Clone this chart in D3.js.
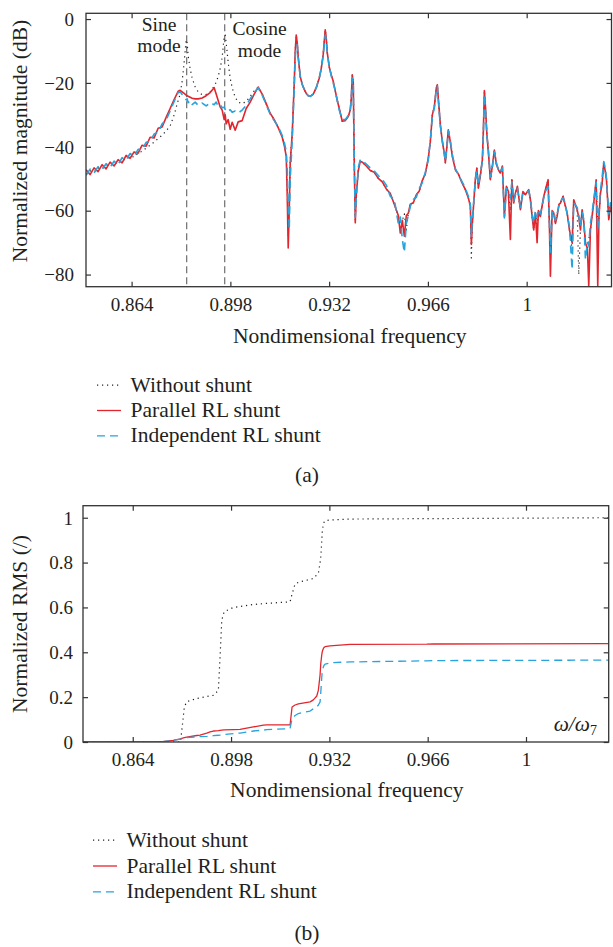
<!DOCTYPE html>
<html>
<head>
<meta charset="utf-8">
<script src="https://cdn.jsdelivr.net/npm/d3@7"></script>
<style>
  body { margin: 0; background: #fff; }
  svg text { font-family: "Liberation Serif", "Times New Roman", serif; fill: #231f20; }
</style>
</head>
<body>
<svg id="chart" width="613" height="947"></svg>
<script>
// ---- panel (a): frequency response, dB ----
var topFreq = [
  0.84833,0.84970,0.85108,0.85246,0.85384,0.85522,0.85659,0.85797,0.85935,0.86073,0.86211,0.86348,
  0.86486,0.86624,0.86762,0.86900,0.87037,0.87175,0.87313,0.87451,0.87589,0.87726,0.87864,0.88002,
  0.88071,0.88140,0.88209,0.88278,0.88312,0.88346,0.88415,0.88484,0.88588,0.88691,0.88829,0.88967,
  0.89104,0.89242,0.89311,0.89380,0.89449,0.89518,0.89587,0.89621,0.89656,0.89724,0.89793,0.89862,
  0.89966,0.90069,0.90207,0.90345,0.90482,0.90620,0.90758,
  0.90896,0.91034,0.91171,0.91309,0.91447,0.91585,0.91654,0.91723,0.91757,0.91791,0.91826,0.91860,
  0.91929,0.91998,0.92033,0.92067,0.92102,0.92136,0.92205,0.92274,0.92343,0.92412,0.92480,0.92549,
  0.92653,0.92756,0.92859,0.92928,0.92997,0.93032,0.93066,0.93101,0.93135,0.93204,0.93273,0.93342,
  0.93411,0.93480,0.93548,0.93652,0.93755,0.93858,0.93927,0.93962,0.93996,0.94031,0.94065,0.94100,
  0.94134,0.94203,0.94272,0.94341,
  0.94479,0.94616,0.94754,0.94892,0.95030,0.95168,0.95305,0.95443,0.95581,0.95650,0.95719,0.95788,
  0.95857,0.95925,0.95994,0.96098,0.96201,0.96304,0.96408,0.96511,
  0.96614,0.96683,0.96752,0.96821,0.96890,0.96924,0.96959,0.97028,0.97097,0.97166,0.97200,0.97252,
  0.97303,0.97372,0.97441,
  0.97545,0.97648,0.97751,0.97889,0.97992,0.98061,0.98096,0.98130,0.98182,0.98234,0.98285,0.98337,
  0.98406,0.98475,0.98509,0.98544,0.98578,0.98630,0.98681,0.98750,0.98819,0.98888,0.98957,0.99043,0.99095,
  0.99164,0.99233,0.99302,0.99370,0.99439,0.99491,0.99553,0.99612,0.99681,0.99784,0.99870,0.99956,
  1.00070,1.00128,1.00187,1.00242,1.00301,1.00359,1.00404,1.00473,
  1.00576,1.00645,1.00738,1.00783,1.00817,1.00876,1.00931,1.00990,1.01048,1.01110,1.01162,1.01255,
  1.01317,1.01393,1.01472,1.01565,1.01620,1.01737,1.01792,1.01851,
  1.01909,1.01971,1.02023,1.02092,1.02137,1.02195,1.02247,1.02309,1.02392,1.02447,1.02488,1.02540,
  1.02592,1.02654,1.02712,1.02747,1.02826,1.02884,1.02936
];
var topWithout = [
  -48.5,-47.5,-47.9,-46.6,-46.8,-45.7,-46.0,-45.0,-45.3,-44.0,-44.0,-43.0,
  -43.2,-42.0,-41.4,-40.4,-39.5,-38.5,-37.4,-36.4,-35.0,-33.5,-30.0,-25.5,
  -23.5,-19.5,-13.5,-6.5,-7.5,-11.5,-15.5,-18.5,-21.2,-22.8,-23.7,-23.6,
  -22.8,-21.0,-19.8,-18.0,-15.5,-12.0,-5.5,-5.0,-7.5,-13.5,-18.5,-21.5,
  -24.5,-26.0,-26.5,-25.8,-24.2,-22.5,-21.3,
  -23.5,-26.6,-29.6,-31.6,-34.0,-36.8,-39.0,-42.5,-52.0,-68.0,-58.0,-44.0,
  -36.0,-20.0,-10.0,-5.0,-7.5,-12.0,-18.0,-20.5,-22.0,-23.3,-24.0,-24.2,
  -23.5,-21.5,-18.5,-15.5,-11.0,-7.0,-3.4,-6.0,-10.5,-15.0,-17.5,-19.5,
  -22.5,-25.5,-28.0,-32.0,-31.8,-30.5,-28.5,-25.0,-17.5,-20.0,-45.0,-63.0,
  -55.0,-47.0,-44.5,-44.8,
  -46.0,-47.4,-48.0,-49.9,-51.0,-53.2,-54.6,-58.0,-61.5,-66.0,-63.0,-61.0,
  -66.0,-60.8,-58.0,-57.5,-55.0,-53.8,-50.5,-48.5,
  -43.5,-38.5,-30.0,-27.5,-21.5,-20.6,-25.0,-33.0,-38.5,-42.0,-45.0,-40.0,
  -34.7,-38.5,-43.0,
  -47.2,-48.5,-50.8,-53.4,-56.0,-58.6,-74.8,-64.0,-57.0,-50.0,-46.7,-52.9,
  -49.0,-44.0,-35.0,-22.4,-27.0,-36.0,-41.5,-50.3,-46.0,-41.0,-45.5,-47.5,-48.2,
  -46.0,-61.8,-52.4,-54.0,-60.0,-50.3,-57.6,-54.5,-52.4,-59.7,-54.0,-55.0,
  -53.4,-56.6,-61.8,-66.0,-60.7,-65.0,-60.0,-61.8,
  -56.0,-53.4,-50.3,-65.0,-74.0,-60.0,-60.7,-64.0,-61.8,-58.0,-57.6,-55.5,
  -58.0,-60.7,-66.0,-72.0,-56.6,-59.7,-80.0,-66.0,
  -59.7,-64.0,-70.0,-72.0,-69.0,-66.0,-62.0,-57.6,-50.3,-66.0,-62.0,-54.5,
  -52.0,-45.0,-48.0,-50.3,-62.8,-58.0,-60.7
];
var topParallel = [
  -47.2,-48.7,-46.6,-47.8,-45.6,-46.9,-44.8,-46.0,-44.0,-45.0,-42.7,-43.6,
  -41.6,-42.0,-39.5,-39.8,-37.0,-37.2,-34.2,-33.8,-30.8,-28.0,-25.2,-22.6,
  -22.3,-22.8,-23.3,-23.8,-24.0,-24.2,-24.5,-24.8,-25.0,-25.0,-24.7,-24.0,
  -23.0,-21.5,-23.5,-25.5,-27.5,-28.5,-31.5,-30.0,-32.8,-31.5,-34.5,-32.3,
  -34.8,-32.2,-31.8,-28.0,-26.0,-23.5,-21.3,
  -23.5,-26.5,-29.5,-31.5,-34.0,-37.0,-39.5,-43.0,-55.0,-71.7,-60.0,-45.0,
  -36.0,-20.0,-10.0,-5.0,-7.5,-12.0,-18.0,-20.5,-22.0,-23.3,-24.0,-24.2,
  -23.5,-21.5,-18.5,-15.5,-11.0,-7.0,-3.4,-6.0,-10.5,-15.0,-17.5,-19.5,
  -22.5,-25.5,-28.0,-32.0,-31.8,-30.5,-28.5,-25.0,-17.5,-20.0,-45.0,-63.8,
  -55.0,-47.5,-44.5,-44.8,
  -46.0,-47.4,-48.0,-49.9,-51.0,-53.2,-54.6,-58.0,-61.5,-67.0,-63.0,-68.0,
  -61.5,-60.8,-58.0,-57.5,-55.0,-53.8,-50.5,-48.5,
  -43.5,-38.5,-30.0,-27.5,-21.5,-20.6,-25.0,-33.0,-38.5,-42.0,-45.0,-40.0,
  -34.7,-38.5,-43.0,
  -47.2,-48.5,-50.8,-53.4,-56.0,-58.6,-70.6,-64.0,-57.0,-50.0,-46.7,-52.9,
  -49.0,-44.0,-35.0,-22.4,-27.0,-36.0,-41.5,-50.3,-46.0,-41.0,-45.5,-47.5,-48.2,
  -46.0,-61.8,-52.4,-54.0,-69.0,-50.3,-57.6,-54.5,-52.4,-59.7,-54.0,-55.0,
  -53.4,-56.6,-61.8,-66.0,-60.7,-70.0,-60.0,-61.8,
  -56.0,-53.4,-50.3,-65.0,-80.5,-60.0,-60.7,-64.0,-61.8,-58.0,-57.6,-55.5,
  -58.0,-60.7,-66.0,-70.0,-56.6,-59.7,-62.0,-66.0,
  -59.7,-64.0,-70.0,-72.0,-83.6,-66.0,-62.0,-57.6,-50.3,-83.6,-62.0,-54.5,
  -52.0,-45.0,-48.0,-50.3,-62.8,-58.0,-60.7
];
var topIndependent = [
  -48.9,-47.0,-48.2,-46.2,-47.1,-45.3,-46.4,-44.5,-45.6,-43.4,-44.2,-42.1,
  -43.0,-40.8,-40.9,-38.6,-38.3,-36.0,-35.5,-32.8,-31.6,-28.8,-25.8,-23.0,
  -22.8,-23.6,-24.5,-25.3,-25.0,-26.2,-25.6,-26.8,-26.0,-27.0,-26.3,-27.2,
  -26.2,-26.8,-26.0,-27.2,-26.8,-27.8,-27.6,-28.3,-28.0,-28.8,-28.4,-29.2,
  -28.8,-29.4,-28.5,-27.0,-25.0,-23.0,-21.5,
  -23.8,-26.8,-29.8,-31.8,-33.6,-36.5,-38.5,-41.5,-47.0,-58.0,-66.0,-50.0,
  -38.0,-22.0,-12.0,-8.5,-8.0,-12.0,-18.0,-20.5,-22.0,-23.3,-24.0,-24.2,
  -23.5,-21.5,-18.5,-15.5,-11.5,-8.0,-5.0,-6.5,-10.5,-15.0,-17.8,-20.0,
  -22.5,-25.5,-28.5,-31.5,-31.5,-30.2,-28.5,-25.0,-18.5,-21.0,-45.0,-62.0,
  -56.0,-46.5,-44.0,-44.3,
  -45.4,-46.6,-47.6,-49.0,-50.2,-52.0,-55.5,-56.5,-64.0,-62.0,-69.0,-73.0,
  -64.0,-61.5,-58.6,-56.5,-55.8,-53.0,-51.2,-48.0,
  -44.0,-38.0,-30.5,-27.8,-22.0,-21.0,-25.5,-33.5,-38.0,-42.5,-44.5,-40.5,
  -35.0,-38.0,-42.5,
  -46.8,-48.8,-50.5,-53.0,-55.5,-58.0,-68.0,-63.0,-56.5,-50.5,-47.5,-52.0,
  -48.5,-44.5,-36.0,-23.5,-28.0,-36.5,-41.0,-49.5,-46.5,-41.5,-45.0,-47.8,-48.0,
  -46.5,-62.3,-53.0,-53.5,-56.0,-51.0,-57.0,-55.0,-53.0,-59.0,-54.5,-54.5,
  -53.8,-56.0,-61.0,-64.0,-60.0,-62.0,-59.5,-61.0,
  -56.5,-54.0,-52.5,-63.0,-73.0,-61.0,-60.0,-63.0,-61.0,-58.5,-57.0,-56.0,
  -57.5,-61.0,-65.0,-78.4,-57.5,-59.0,-61.5,-65.0,
  -60.5,-63.0,-75.3,-70.0,-71.0,-64.0,-61.0,-56.5,-51.0,-66.0,-60.0,-53.5,
  -50.0,-44.6,-47.0,-50.0,-61.0,-57.5,-60.0
];
var modeFreq = [0.88296, 0.89605];
var modeLabels = [["Sine", "mode"], ["Cosine", "mode"]];

// ---- panel (b): cumulative RMS ----
var rmsFreq = [0.8468,0.87344,0.87804,0.88053,0.88095,0.88185,0.88268,0.88614,0.88728,0.8896,0.89074,
  0.89188,0.89361,0.8942,0.89479,0.89558,0.8988,0.90112,0.90572,0.90918,0.91035,0.91841,0.9191,
  0.92014,0.92128,0.92533,0.92647,0.92765,0.9282,0.92879,0.92903,0.92938,0.92958,0.92993,0.93017,
  0.93052,0.93225,0.93685,0.93917,0.9657,0.96798,1.02796,1.0286];
var rmsWithout = [0,0,0,0,0.05,0.156,0.18,0.194,0.197,0.203,0.206,
  0.208,0.23,0.379,0.543,0.58,0.6,0.604,0.613,0.617,0.618,0.625,0.66,
  0.704,0.712,0.725,0.729,0.745,0.752,0.80,0.826,0.90,0.945,0.97,0.98,
  0.987,0.99,0.993,0.994,0.996,0.996,1.0,1.0];
var rmsParallel = [0,0,0.0076,0.014,0.016,0.019,0.022,0.029,0.031,0.040,0.045,
  0.049,0.051,0.052,0.053,0.054,0.055,0.056,0.067,0.075,0.076,0.076,0.156,
  0.165,0.170,0.179,0.188,0.205,0.231,0.30,0.35,0.39,0.405,0.417,0.422,
  0.425,0.429,0.433,0.435,0.436,0.437,0.439,0.439];
var rmsIndependent = [0,0,0.0076,0.013,0.015,0.017,0.0196,0.023,0.024,0.025,0.026,
  0.028,0.030,0.031,0.032,0.033,0.037,0.040,0.049,0.053,0.055,0.060,0.104,
  0.118,0.127,0.138,0.148,0.156,0.165,0.179,0.22,0.29,0.32,0.335,0.342,
  0.347,0.353,0.356,0.357,0.362,0.363,0.365,0.365];

var xTicks = [0.864, 0.898, 0.932, 0.966, 1];
var magTicks = [0, -20, -40, -60, -80];
var rmsTicks = [0, 0.2, 0.4, 0.6, 0.8, 1];
var seriesNames = ["Without shunt", "Parallel RL shunt", "Independent RL shunt"];

// line looks, same order as seriesNames
var looks = [
  { stroke: "#231f20", dash: "1.2,3.8", width: 1.2 },
  { stroke: "#e3262d", dash: null, width: 1.3 },
  { stroke: "#27a3dd", dash: "8,5", width: 1.3 }
];

var svg = d3.select("#chart");
var tickFont = 19, labelFont = 21.5;

function drawPanel(p) {
  var x = d3.scaleLinear().domain(p.xDomain).range([p.left, p.right]);
  var y = d3.scaleLinear().domain(p.yDomain).range([p.bottom, p.top]);
  var g = svg.append("g");

  g.append("clipPath").attr("id", p.id + "-clip")
    .append("rect")
    .attr("x", p.left).attr("y", p.top)
    .attr("width", p.right - p.left).attr("height", p.bottom - p.top);

  var plot = g.append("g").attr("clip-path", "url(#" + p.id + "-clip)");

  if (p.extra) p.extra(plot, x, y);

  var line = d3.line()
    .defined(function(d) { return d[1] != null; })
    .x(function(d) { return x(d[0]); })
    .y(function(d) { return y(d[1]); });

  p.series.forEach(function(vals, i) {
    var pts = p.freq.map(function(f, k) { return [f, vals[k]]; });
    plot.append("path")
      .attr("d", line(pts))
      .attr("fill", "none")
      .attr("stroke", looks[i].stroke)
      .attr("stroke-width", looks[i].width * (i ? p.lineScale : 1))
      .attr("stroke-dasharray", looks[i].dash)
      .attr("stroke-linejoin", "round");
  });

  // axes, ticks inward on all four sides
  g.append("g").attr("transform", "translate(0," + p.bottom + ")")
    .call(d3.axisBottom(x).tickValues(xTicks).tickSize(-5).tickSizeOuter(0)
      .tickPadding(10.8).tickFormat(function(d) { return String(d); }));
  g.append("g").attr("transform", "translate(0," + p.top + ")")
    .call(d3.axisTop(x).tickValues(xTicks).tickSize(-5).tickSizeOuter(0).tickFormat(""));
  var ay = g.append("g").attr("transform", "translate(" + p.left + ",0)")
    .call(d3.axisLeft(y).tickValues(p.yTicks).tickSize(-5).tickSizeOuter(0)
      .tickPadding(p.yPad).tickFormat(p.yFormat));
  g.append("g").attr("transform", "translate(" + p.right + ",0)")
    .call(d3.axisRight(y).tickValues(p.yTicks).tickSize(-5).tickSizeOuter(0).tickFormat(""));

  g.selectAll(".domain").remove();
  g.selectAll(".tick line").attr("stroke", "#333").attr("stroke-width", 1.2);
  g.selectAll(".tick text")
    .attr("font-family", "Liberation Serif, serif")
    .attr("font-size", tickFont)
    .attr("fill", "#231f20");
  ay.selectAll(".tick text").attr("dy", "0.33em");

  g.append("rect")
    .attr("x", p.left).attr("y", p.top)
    .attr("width", p.right - p.left).attr("height", p.bottom - p.top)
    .attr("fill", "none").attr("stroke", "#333").attr("stroke-width", 1.3);

  g.append("text")
    .attr("x", (p.left + p.right) / 2 + 1).attr("y", p.xLabelY)
    .attr("text-anchor", "middle").attr("font-size", labelFont)
    .text("Nondimensional frequency");

  g.append("text")
    .attr("transform", "translate(27," + p.yLabelMid + ") rotate(-90)")
    .attr("text-anchor", "middle").attr("font-size", labelFont)
    .text(p.yLabel);

  // legend
  var lg = svg.append("g");
  seriesNames.forEach(function(name, i) {
    var by = p.legendY + i * p.legendStep;
    lg.append("line")
      .attr("x1", p.legendX0).attr("x2", p.legendX1)
      .attr("y1", by - 6.5).attr("y2", by - 6.5)
      .attr("stroke", looks[i].stroke)
      .attr("stroke-width", looks[i].width)
      .attr("stroke-dasharray", looks[i].dash);
    lg.append("text")
      .attr("x", p.legendX1 + 9.5).attr("y", by)
      .attr("font-size", labelFont)
      .text(name);
  });

  svg.append("text")
    .attr("x", 307).attr("y", p.captionY)
    .attr("text-anchor", "middle").attr("font-size", labelFont)
    .text(p.caption);

  return { x: x, y: y, g: g };
}

drawPanel({
  id: "a", left: 86, right: 611.5, top: 13.3, bottom: 286.7,
  xDomain: [0.8483, 1.0292], yDomain: [-83.8, 1.8],
  yTicks: magTicks, yPad: 12, yFormat: d3.format("d"), lineScale: 1.25,
  freq: topFreq, series: [topWithout, topParallel, topIndependent],
  xLabelY: 343, yLabel: "Normalized magnitude (dB)", yLabelMid: 141,
  legendX0: 97, legendX1: 121, legendY: 391.7, legendStep: 25.3,
  caption: "(a)", captionY: 481.7,
  extra: function(plot, x, y) {
    plot.selectAll(".mode-line").data(modeFreq).enter().append("line")
      .attr("x1", function(d) { return x(d); }).attr("x2", function(d) { return x(d); })
      .attr("y1", y.range()[1]).attr("y2", y.range()[0])
      .attr("stroke", "#6d6e70").attr("stroke-width", 1.2)
      .attr("stroke-dasharray", "7,4");
  }
});

// mode annotations, two short lines each
var modeX = [159, 259.5];
var modeY = [30.5, 35];
modeLabels.forEach(function(lines, i) {
  lines.forEach(function(s, j) {
    svg.append("text")
      .attr("x", modeX[i]).attr("y", modeY[i] + j * 21.5)
      .attr("text-anchor", "middle").attr("font-size", 19.5)
      .text(s);
  });
});

var pb = drawPanel({
  id: "b", left: 83, right: 608.7, top: 505.7, bottom: 742,
  xDomain: [0.8468, 1.0286], yDomain: [0, 1.0536],
  yTicks: rmsTicks, yPad: 10, yFormat: function(d) { return String(d); }, lineScale: 1,
  freq: rmsFreq, series: [rmsWithout, rmsParallel, rmsIndependent],
  xLabelY: 797, yLabel: "Normalized RMS (/)", yLabelMid: 624,
  legendX0: 93, legendX1: 117, legendY: 846.7, legendStep: 25.8,
  caption: "(b)", captionY: 940
});

var ratio = pb.g.append("text")
  .attr("x", 597).attr("y", 730.7)
  .attr("text-anchor", "end").attr("font-size", labelFont)
  .attr("font-style", "italic");
ratio.append("tspan").text("ω/ω");
ratio.append("tspan").attr("font-size", 14).attr("dy", 4).attr("font-style", "normal").text("7");
</script>
</body>
</html>
